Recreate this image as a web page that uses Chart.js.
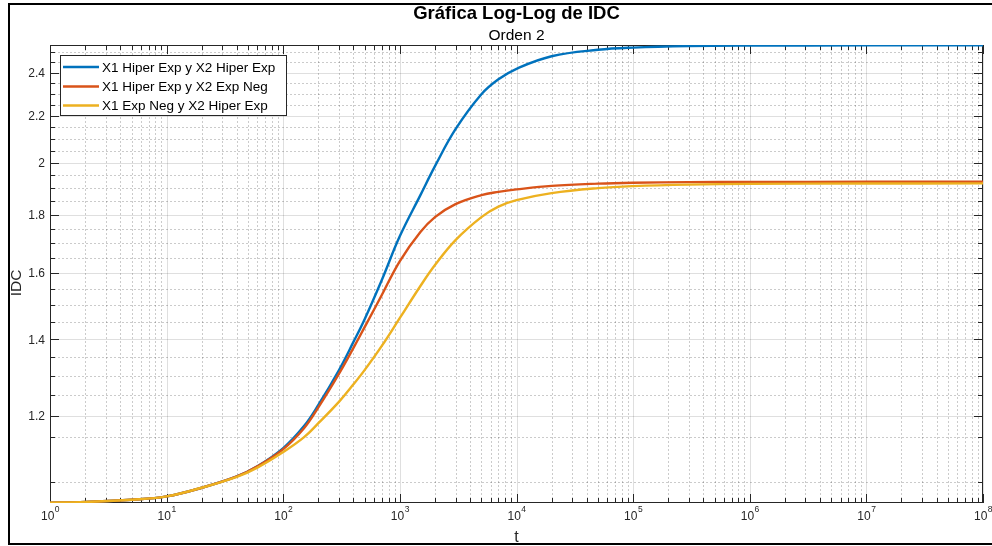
<!DOCTYPE html>
<html lang="es">
<head>
<meta charset="utf-8">
<title>Gráfica Log-Log de IDC</title>
<script src="https://cdn.jsdelivr.net/npm/chart.js@4.4.0/dist/chart.umd.min.js"></script>
<style>
  html, body { margin: 0; padding: 0; background: #fff; }
  #contenedor { width: 992px; height: 546px; }
</style>
</head>
<body>
<div id="contenedor"><canvas id="graficoIDC" width="992" height="546"></canvas></div>
<script>
// Tiempos t (eje logarítmico)
const tiempos = [1, 2, 5, 10, 20, 40, 60, 100, 150, 200, 300, 400, 500, 700,
  1000, 1500, 2000, 3000, 5000, 7000, 1e4, 2e4, 5e4, 1e5, 3e5, 1e6, 1e7, 1e8];

// IDC de orden 2 para cada combinación
const idcHiperHiper = [1.006, 1.0075, 1.012, 1.019, 1.037, 1.061, 1.083, 1.1236, 1.1740, 1.2260, 1.3150, 1.3925, 1.4587, 1.5782,
  1.7247, 1.8735, 1.9864, 2.1405, 2.2972, 2.3678, 2.4185, 2.4804, 2.5131, 2.5243, 2.5319, 2.5345, 2.5355, 2.5360];
const idcHiperNeg = [1.006, 1.0075, 1.012, 1.019, 1.037, 1.061, 1.083, 1.1213, 1.1690, 1.2200, 1.3054, 1.3757, 1.4353, 1.5311,
  1.6398, 1.7387, 1.7921, 1.8398, 1.8735, 1.8860, 1.8952, 1.9086, 1.9175, 1.9210, 1.9233, 1.9241, 1.9245, 1.9245];
const idcNegHiper = [1.006, 1.0075, 1.012, 1.019, 1.037, 1.060, 1.080, 1.1145, 1.1480, 1.1815, 1.2336, 1.2780, 1.3160, 1.3813,
  1.4616, 1.5591, 1.6266, 1.7108, 1.7921, 1.8305, 1.8547, 1.8811, 1.9002, 1.9079, 1.9137, 1.9164, 1.9179, 1.9183];

const nombresSeries = ["X1 Hiper Exp y X2 Hiper Exp", "X1 Hiper Exp y X2 Exp Neg", "X1 Exp Neg y X2 Hiper Exp"];
const coloresSeries = ["#0072BD", "#D95319", "#EDB120"];

// Marcas de los ejes
const exponentesX = [0, 1, 2, 3, 4, 5, 6, 7, 8];
const ticksY = [1.2, 1.4, 1.6, 1.8, 2, 2.2, 2.4];
const etiquetasY = ["1.2", "1.4", "1.6", "1.8", "2", "2.2", "2.4"];
const menoresY = [1.05, 1.15, 1.25, 1.3, 1.35, 1.45, 1.5, 1.55, 1.65, 1.7, 1.75, 1.85, 1.9, 1.95,
  2.05, 2.1, 2.15, 2.25, 2.3, 2.35, 2.45, 2.5];

const FUENTE = '"Liberation Sans", Arial, Helvetica, sans-serif';

function puntos(valores) {
  return tiempos.map((t, i) => ({ x: t, y: valores[i] }));
}

// Rejilla, caja y marcas hacia adentro estilo MATLAB
const ejesMatlab = {
  id: "ejesMatlab",
  beforeDraw(chart) {
    const ctx = chart.ctx;
    ctx.save();
    ctx.fillStyle = "#fff";
    ctx.fillRect(0, 0, chart.width, chart.height);
    ctx.restore();
  },
  beforeDatasetsDraw(chart) {
    const { ctx, chartArea: a, scales } = chart;
    const x = scales.x, y = scales.y;
    const px = (v) => Math.round(x.getPixelForValue(v)) + 0.5;
    const py = (v) => Math.round(y.getPixelForValue(v)) + 0.5;
    ctx.save();
    ctx.lineWidth = 1;

    // rejilla menor
    ctx.setLineDash([2, 2]);
    ctx.strokeStyle = "rgba(38,38,38,0.24)";
    ctx.beginPath();
    exponentesX.slice(0, -1).forEach((e) => {
      for (let m = 2; m <= 9; m++) {
        const xx = px(m * Math.pow(10, e));
        ctx.moveTo(xx, a.top);
        ctx.lineTo(xx, a.bottom);
      }
    });
    menoresY.forEach((v) => {
      const yy = py(v);
      ctx.moveTo(a.left, yy);
      ctx.lineTo(a.right, yy);
    });
    ctx.stroke();

    // rejilla mayor
    ctx.setLineDash([]);
    ctx.strokeStyle = "rgba(38,38,38,0.15)";
    ctx.beginPath();
    exponentesX.forEach((e) => {
      const xx = px(Math.pow(10, e));
      ctx.moveTo(xx, a.top);
      ctx.lineTo(xx, a.bottom);
    });
    ticksY.forEach((v) => {
      const yy = py(v);
      ctx.moveTo(a.left, yy);
      ctx.lineTo(a.right, yy);
    });
    ctx.stroke();

    // caja
    ctx.strokeStyle = "#262626";
    ctx.strokeRect(a.left + 0.5, a.top + 0.5, a.right - a.left - 1, a.bottom - a.top - 1);

    // marcas
    ctx.beginPath();
    const marcaX = (v, largo) => {
      const xx = px(v);
      ctx.moveTo(xx, a.bottom); ctx.lineTo(xx, a.bottom - largo);
      ctx.moveTo(xx, a.top); ctx.lineTo(xx, a.top + largo);
    };
    const marcaY = (v, largo) => {
      const yy = py(v);
      ctx.moveTo(a.left, yy); ctx.lineTo(a.left + largo, yy);
      ctx.moveTo(a.right, yy); ctx.lineTo(a.right - largo, yy);
    };
    exponentesX.forEach((e) => {
      marcaX(Math.pow(10, e), 9);
      if (e < 8) for (let m = 2; m <= 9; m++) marcaX(m * Math.pow(10, e), 5);
    });
    ticksY.forEach((v) => marcaY(v, 9));
    menoresY.forEach((v) => marcaY(v, 5));
    ctx.stroke();
    ctx.restore();
  },
  afterDatasetsDraw(chart) {
    const { ctx, chartArea: a, scales } = chart;
    const x = scales.x, y = scales.y;
    ctx.save();

    // etiquetas del eje y
    ctx.fillStyle = "#262626";
    ctx.font = "12px " + FUENTE;
    ctx.textAlign = "right";
    ctx.textBaseline = "middle";
    ticksY.forEach((v, i) => ctx.fillText(etiquetasY[i], a.left - 5, y.getPixelForValue(v) + 1));

    // etiquetas del eje x: 10 con exponente
    exponentesX.forEach((e) => {
      const xx = x.getPixelForValue(Math.pow(10, e));
      ctx.font = "12px " + FUENTE;
      const wBase = ctx.measureText("10").width;
      ctx.font = "8.5px " + FUENTE;
      const wExp = ctx.measureText(String(e)).width;
      const x0 = xx - (wBase + wExp) / 2;
      ctx.textAlign = "left";
      ctx.font = "12px " + FUENTE;
      ctx.fillText("10", x0, a.bottom + 14);
      ctx.font = "8.5px " + FUENTE;
      ctx.fillText(String(e), x0 + wBase + 0.5, a.bottom + 7);
    });

    // títulos de ejes
    ctx.fillStyle = "#262626";
    ctx.textAlign = "center";
    ctx.font = "16px " + FUENTE;
    ctx.fillText("t", (a.left + a.right) / 2, 538);
    ctx.save();
    ctx.translate(17, 283);
    ctx.rotate(-Math.PI / 2);
    ctx.font = "15.5px " + FUENTE;
    ctx.fillText("IDC", 0, 0);
    ctx.restore();

    // título y subtítulo
    ctx.fillStyle = "#000";
    ctx.textBaseline = "alphabetic";
    ctx.font = "bold 18.5px " + FUENTE;
    ctx.fillText("Gráfica Log-Log de IDC", (a.left + a.right) / 2, 19);
    ctx.font = "15.5px " + FUENTE;
    ctx.fillText("Orden 2", (a.left + a.right) / 2, 40);

    // leyenda
    ctx.fillStyle = "#fff";
    ctx.fillRect(60, 55, 227, 60);
    ctx.strokeStyle = "#262626";
    ctx.lineWidth = 1;
    ctx.strokeRect(60.5, 55.5, 226, 60);
    const filas = [67, 86.5, 105.5];
    chart.data.datasets.forEach((ds, i) => {
      ctx.strokeStyle = ds.borderColor;
      ctx.lineWidth = 2.4;
      ctx.beginPath();
      ctx.moveTo(63, filas[i]);
      ctx.lineTo(99, filas[i]);
      ctx.stroke();
      ctx.fillStyle = "#000";
      ctx.textAlign = "left";
      ctx.textBaseline = "middle";
      ctx.font = "13.5px " + FUENTE;
      ctx.fillText(ds.label, 102, filas[i] + 1);
    });

    // marco exterior
    ctx.strokeStyle = "#000";
    ctx.lineWidth = 2;
    ctx.strokeRect(9, 4, 1000, 540);
    ctx.restore();
  }
};

const series = [idcHiperHiper, idcHiperNeg, idcNegHiper];

new Chart(document.getElementById("graficoIDC"), {
  type: "line",
  data: {
    datasets: series.map((valores, i) => ({
      label: nombresSeries[i],
      data: puntos(valores),
      borderColor: coloresSeries[i],
      backgroundColor: coloresSeries[i],
      borderWidth: 2.4,
      pointRadius: 0,
      fill: false,
      tension: 0.4,
      order: 3 - i,
    })),
  },
  options: {
    responsive: false,
    animation: false,
    devicePixelRatio: 1,
    layout: { padding: { left: 50, right: 9, top: 45, bottom: 43 } },
    plugins: {
      legend: { display: false },
      tooltip: { enabled: false },
      title: { display: false },
    },
    scales: {
      x: { type: "logarithmic", min: 1, max: 1e8, display: false },
      y: { type: "logarithmic", min: 1.0055, max: 2.5376, display: false },
    },
  },
  plugins: [ejesMatlab],
});
</script>
</body>
</html>
